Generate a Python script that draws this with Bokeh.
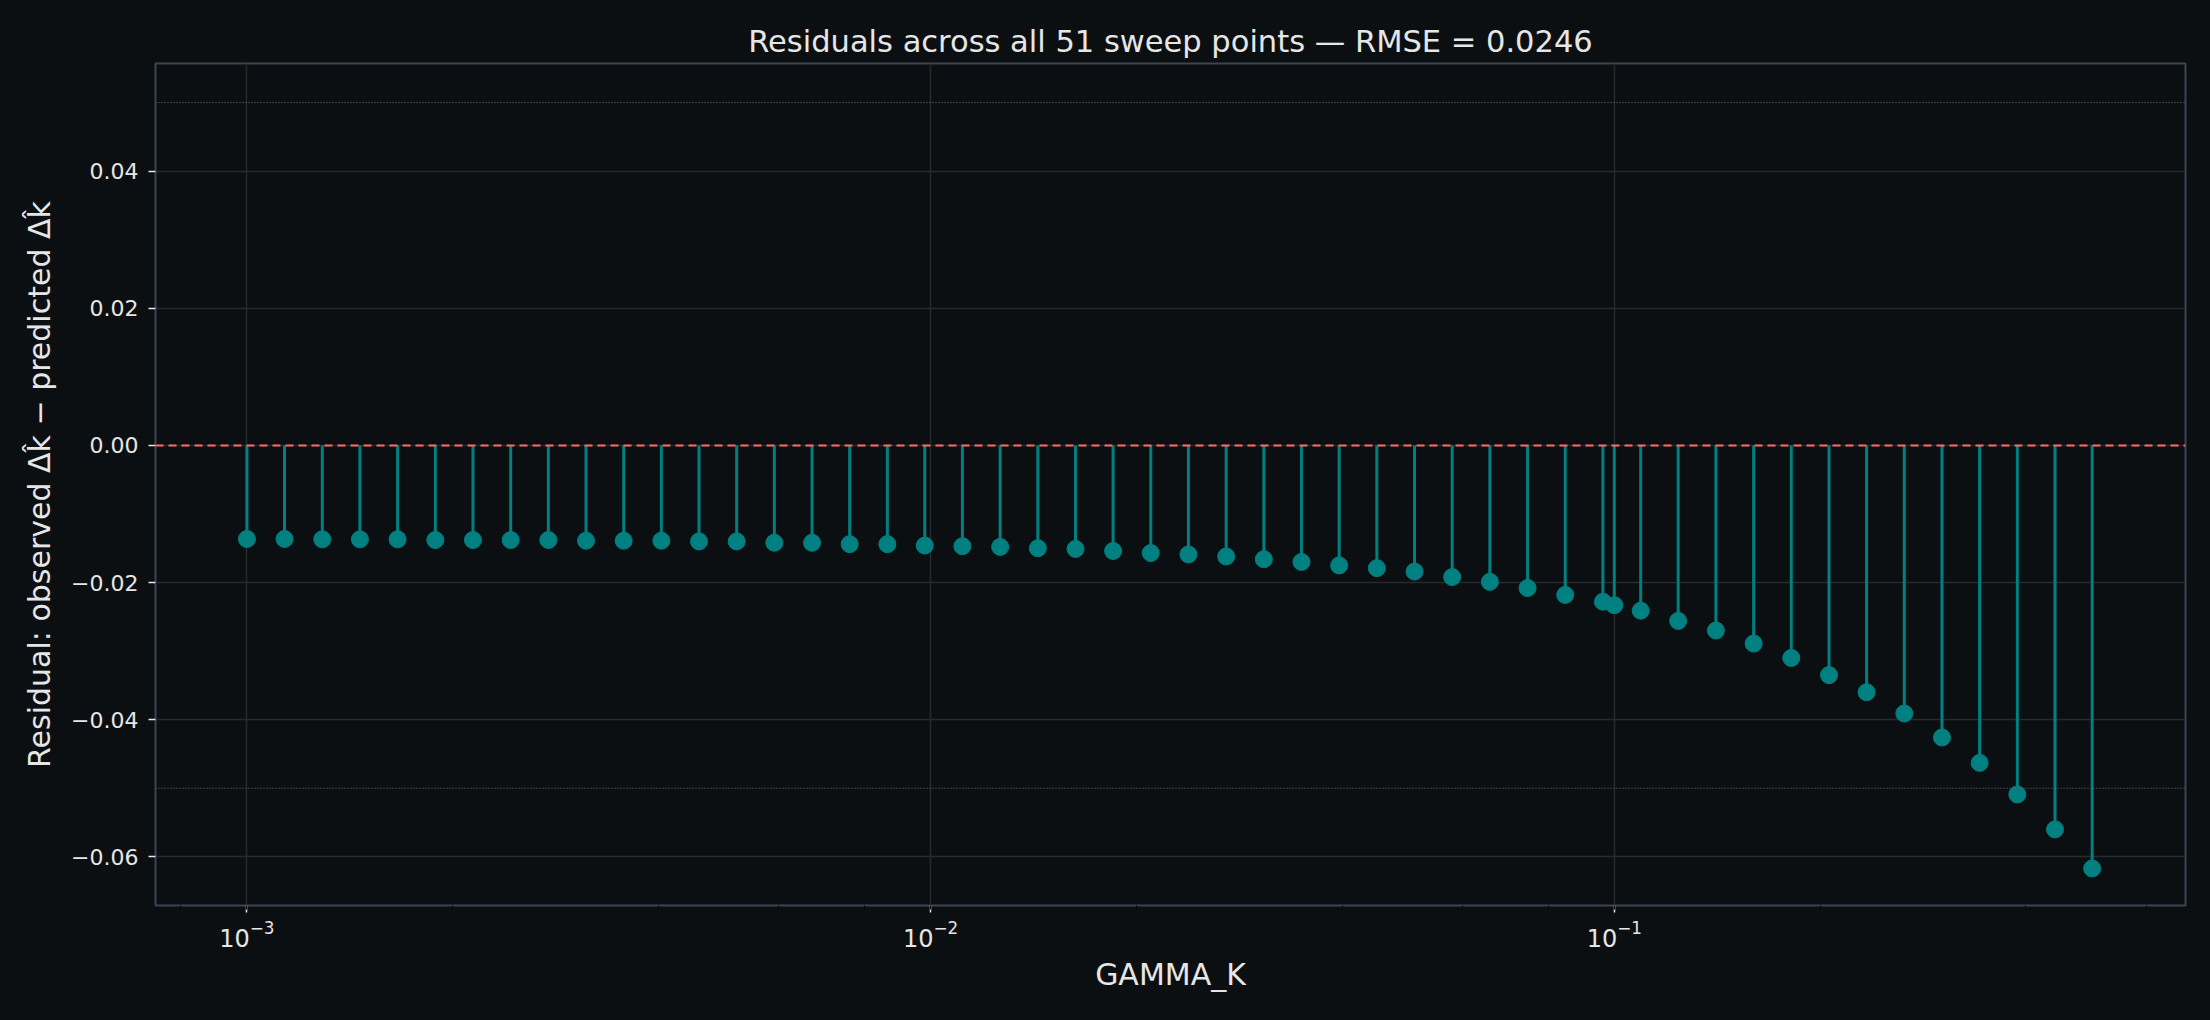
from bokeh.plotting import figure
from bokeh.models import (Span, LogTicker, FixedTicker, CustomJSTickFormatter, LogTickFormatter,
                          ColumnDataSource, Range1d, GlobalInlineStyleSheet)
from bokeh.embed import file_html
from bokeh.resources import INLINE

# GAMMA_K sweep (51 points, incl. 0.1) and residuals
gamma_k = [0.001, 0.001135, 0.001289, 0.001463, 0.001661, 0.001886, 0.002141, 0.002431,
           0.00276, 0.003133, 0.003557, 0.004038, 0.004584, 0.005204, 0.005908, 0.006708,
           0.007615, 0.008645, 0.009805, 0.01113, 0.01264, 0.01435, 0.01629, 0.01849,
           0.02099, 0.02383, 0.02706, 0.03072, 0.03487, 0.03959, 0.04495, 0.05103,
           0.05793, 0.06577, 0.07467, 0.08477, 0.09624, 0.1, 0.1093, 0.124, 0.1408,
           0.1599, 0.1815, 0.2061, 0.2339, 0.2656, 0.3015, 0.3423, 0.3886, 0.4412, 0.5]
residual = [-0.01365, -0.01365, -0.0137, -0.0137, -0.0137, -0.0138, -0.0138, -0.0138,
            -0.0138, -0.0139, -0.0139, -0.0139, -0.0140, -0.0140, -0.0142, -0.0142,
            -0.0144, -0.0144, -0.0146, -0.0147, -0.0148, -0.0150, -0.0151, -0.0154,
            -0.0157, -0.0159, -0.0162, -0.0166, -0.0170, -0.0175, -0.0179, -0.0184,
            -0.0192, -0.0199, -0.0208, -0.0218, -0.0228, -0.0233, -0.0241, -0.0256,
            -0.0270, -0.0289, -0.0310, -0.0335, -0.0360, -0.0391, -0.0426, -0.0463,
            -0.0509, -0.0560, -0.0617]
y_ticks = [-0.06, -0.04, -0.02, 0.0, 0.02, 0.04]
band = 0.05

title = "Residuals across all 51 sweep points \u2014 RMSE = 0.0246"
x_label = "GAMMA_K"
y_label = "Residual: observed \u0394k\u0302 \u2212 predicted \u0394k\u0302"

BG = "#0b0f11"
TEAL = "#008080"
TXT = "#e6e6e6"
FONT = "DejaVu Sans"

src = ColumnDataSource(data=dict(x=gamma_k, y=residual, zero=[0.0] * len(gamma_k)))

p = figure(width=2210, height=1020, frame_width=2030, frame_height=842,
           x_axis_type="log", x_range=Range1d(7.35e-4, 0.6847), y_range=Range1d(-0.0671, 0.0557),
           output_backend="svg", toolbar_location=None,
           min_border_left=155, min_border_right=25, min_border_top=63, min_border_bottom=115)
# dark page behind the figure
p.stylesheets = [GlobalInlineStyleSheet(css="html, body { background: %s; }" % BG)]

p.background_fill_color = BG
p.border_fill_color = BG
p.outline_line_color = "#3a4556"
p.outline_line_width = 2

p.title.text = title
p.title.text_font = FONT
p.title.text_font_size = "30.5px"
p.title.text_font_style = "normal"
p.title.text_color = TXT
p.title.align = "center"
p.title.standoff = 10

p.segment(x0="x", y0="zero", x1="x", y1="y", source=src, line_color=TEAL, line_width=3)
p.scatter(x="x", y="y", source=src, size=17, fill_color=TEAL, line_color=TEAL)

p.add_layout(Span(location=0, dimension="width", line_color="#ff6b6b", line_width=2, line_dash="8 5"))
for loc in (band, -band):
    p.add_layout(Span(location=loc, dimension="width", line_color="#6f7479", line_width=1, line_dash="1 2"))

for ax in (p.xaxis[0], p.yaxis[0]):
    ax.axis_line_color = None
    ax.major_label_text_font = FONT
    ax.major_label_text_font_size = "22px"
    ax.major_label_text_color = TXT
    ax.major_tick_line_color = TXT
    ax.major_tick_line_width = 1.5
    ax.major_tick_out = 7
    ax.major_tick_in = 0
    ax.axis_label_text_font = FONT
    ax.axis_label_text_font_size = "30px"
    ax.axis_label_text_font_style = "normal"
    ax.axis_label_text_color = TXT

p.xaxis.axis_label = x_label
p.xaxis.ticker = LogTicker()
p.xaxis.formatter = LogTickFormatter()
p.xaxis.major_label_text_font_size = "24px"
p.xaxis.minor_tick_line_color = "#000000"
p.xaxis.minor_tick_out = 4
p.xaxis.minor_tick_in = 0
p.xaxis.major_label_standoff = 7
p.xaxis.axis_label_standoff = 7

p.yaxis.axis_label = y_label
p.yaxis.ticker = FixedTicker(ticks=y_ticks)
p.yaxis.minor_tick_line_color = None
p.yaxis.major_label_standoff = 10
p.yaxis.axis_label_standoff = 11
p.yaxis.formatter = CustomJSTickFormatter(code="return tick.toFixed(2).replace('-', '\u2212');")

p.xgrid.grid_line_color = "#262b30"
p.xgrid.grid_line_width = 1.5
p.ygrid.grid_line_color = "#262b30"
p.ygrid.grid_line_width = 1.5

open("out.html", "w").write(file_html(p, INLINE))
